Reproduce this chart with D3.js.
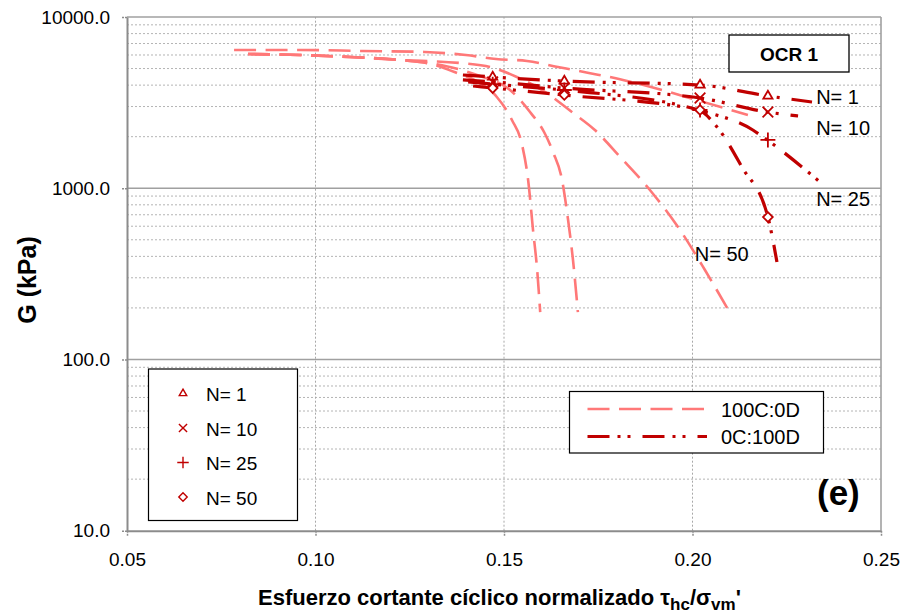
<!DOCTYPE html>
<html><head><meta charset="utf-8">
<script src="https://cdn.jsdelivr.net/npm/d3@7"></script>
<style>
body{margin:0;background:#fff}
svg{display:block}
text{font-family:"Liberation Sans",Arial,sans-serif;fill:#000}
</style>
</head><body><svg id="c" width="904" height="614"></svg>
<script>
// ---------------- data ----------------
const xTicks = [0.05, 0.10, 0.15, 0.20, 0.25];
const yTicks = [10, 100, 1000, 10000];
const seriesN = ["N= 1", "N= 10", "N= 25", "N= 50"];

// 100C:0D fitted curves (light dashed)
const L1x = [0.0784,0.0959,0.1126,0.1290,0.1399,0.1479,0.1561,0.1643,0.1725,0.1805,0.1890,0.2020,0.2147];
const L1g = [6417,6417,6332,6248,5998,5686,5535,5107,4710,4345,3902,3232,2677];
const L10x = [0.0821,0.0959,0.1092,0.1224,0.1383,0.1463,0.1534,0.1609,0.1680,0.1741,0.1808,0.1887,0.1967,0.2033,0.2092];
const L10g = [6081,5998,5840,5610,5387,5107,4463,3648,2787,2188,1522,977,570,333,200];
const L25x = [0.0821,0.0959,0.1092,0.1224,0.1344,0.1436,0.1516,0.1569,0.1609,0.1630,0.1654,0.1670,0.1683,0.1696];
const L25g = [6081,5998,5840,5610,5175,4523,3748,2787,2074,1627,1117,652,381,189];
const L50x = [0.0821,0.0959,0.1092,0.1224,0.1317,0.1375,0.1436,0.1481,0.1521,0.1548,0.1564,0.1577,0.1588,0.1596];
const L50g = [6081,5998,5840,5610,5244,4710,4117,3412,2503,1789,1117,570,333,189];

// 0C:100D fitted curves (dark dash-dot-dot)
const D1x = [0.1391,0.1471,0.1657,0.2020,0.2200,0.2317];
const D1g = [4585,4463,4229,4006,3457,3189];
const D10x = [0.1391,0.1471,0.1657,0.2020,0.2198,0.2280];
const D10g = [4293,4178,3850,3365,2787,2642];
const D25x = [0.1405,0.1471,0.1657,0.2015,0.2160,0.2198,0.2338];
const D25g = [4178,4050,3748,2864,2188,1915,1088];
const D50x = [0.1418,0.1471,0.1657,0.2015,0.2065,0.2131,0.2200,0.2224];
const D50g = [3954,3849,3506,2864,2279,1331,679,371];

// measured points (markers)
const mkX = [0.147, 0.166, 0.202, 0.220];
const M1 = [4463, 4229, 4006, 3457];
const M10 = [4178, 3850, 3365, 2787];
const M25 = [4050, 3748, 2864, 1915];
const M50 = [3849, 3506, 2864, 679];

const legendLines = ["100C:0D", "0C:100D"];

// ---------------- drawing ----------------
const svg = d3.select('#c');
const x = d3.scaleLinear().domain([0.05, 0.25]).range([127, 881]);
const y = d3.scaleLog().domain([10, 10000]).range([530.7, 17]);
const DARK = "#c00000", LIGHT = "#ff7878", GRID = "#b4b4b4", AXIS = "#8c8c8c";

// minor horizontal grid
const minor = [];
[10, 100, 1000].forEach(d => { for (let m = 2; m <= 9; m++) minor.push(d * m); });
svg.append('g').selectAll('line').data(minor).join('line')
  .attr('x1', x(0.05)).attr('x2', x(0.25))
  .attr('y1', d => y(d)).attr('y2', d => y(d))
  .attr('stroke', GRID).attr('stroke-width', 1).attr('stroke-dasharray', '2,2');
// vertical grid
svg.append('g').selectAll('line').data(xTicks.slice(1, -1)).join('line')
  .attr('x1', d => x(d)).attr('x2', d => x(d))
  .attr('y1', y(10)).attr('y2', y(10000))
  .attr('stroke', "#a8a8a8").attr('stroke-width', 1).attr('stroke-dasharray', '2,2');
// major horizontal grid
svg.append('g').selectAll('line').data(yTicks.slice(1)).join('line')
  .attr('x1', x(0.05)).attr('x2', x(0.25))
  .attr('y1', d => y(d)).attr('y2', d => y(d))
  .attr('stroke', "#a0a0a0").attr('stroke-width', 1.6);
// right border
svg.append('line').attr('x1', x(0.25)).attr('x2', x(0.25)).attr('y1', y(10)).attr('y2', y(10000))
  .attr('stroke', "#a0a0a0").attr('stroke-width', 1.6);

// axes
const yAxis = svg.append('g').attr('transform', `translate(${x(0.05)},0)`)
  .call(d3.axisLeft(y).tickValues(yTicks).tickFormat(d3.format('.1f')).tickSize(6).tickPadding(11).tickSizeOuter(0));
const xAxis = svg.append('g').attr('transform', `translate(0,${y(10)})`)
  .call(d3.axisBottom(x).tickValues(xTicks).tickFormat(d3.format('.2f')).tickSize(6).tickPadding(15.5).tickSizeOuter(0));
[yAxis, xAxis].forEach(a => {
  a.select('.domain').attr('stroke', AXIS).attr('stroke-width', 2);
  a.selectAll('.tick line').attr('stroke', AXIS).attr('stroke-width', 1.5).attr('stroke-dasharray', '2,1');
  a.selectAll('.tick text').attr('font-size', 19).attr('font-family', '"Liberation Sans",Arial,sans-serif').attr('fill', '#000');
});

const line = d3.line().x(d => x(d[0])).y(d => y(d[1])).curve(d3.curveMonotoneX);
const zip = (a, b) => a.map((v, i) => [v, b[i]]);

const lightDash = "22,9.5";
const darkDash = "22,8,3,7,3,12";

const gL = svg.append('g');
[[L1x, L1g], [L10x, L10g], [L25x, L25g], [L50x, L50g]].forEach(([a, b]) => {
  gL.append('path').attr('d', line(zip(a, b))).attr('fill', 'none')
    .attr('stroke', LIGHT).attr('stroke-width', 2.6).attr('stroke-dasharray', lightDash);
});
const gD = svg.append('g');
[[D1x, D1g], [D10x, D10g], [D25x, D25g], [D50x, D50g]].forEach(([a, b]) => {
  gD.append('path').attr('d', line(zip(a, b))).attr('fill', 'none')
    .attr('stroke', DARK).attr('stroke-width', 3.2).attr('stroke-dasharray', darkDash);
});

// markers
const symTypes = [d3.symbolTriangle2, d3.symbolTimes, d3.symbolPlus, d3.symbolDiamond2];
const symSizes = [60, 75, 75, 60];
const markerSets = [M1, M10, M25, M50];
const gM = svg.append('g');
markerSets.forEach((vals, k) => {
  gM.selectAll(null).data(zip(mkX, vals)).join('path')
    .attr('transform', d => `translate(${x(d[0])},${y(d[1])})`)
    .attr('d', d3.symbol(symTypes[k], symSizes[k]))
    .attr('fill', k === 0 || k === 3 ? 'white' : 'none')
    .attr('stroke', DARK).attr('stroke-width', 1.8);
});

// curve labels
const lblPos = [[0.2328, 3120], [0.2328, 2050], [0.2328, 790], [0.2006, 375]];
svg.append('g').selectAll('text').data(seriesN).join('text')
  .attr('x', (d, i) => x(lblPos[i][0])).attr('y', (d, i) => y(lblPos[i][1]))
  .attr('font-size', 20).text(d => d);

// OCR box
svg.append('rect').attr('x', 729).attr('y', 35).attr('width', 120).attr('height', 37)
  .attr('fill', 'white').attr('stroke', '#000').attr('stroke-width', 1.3);
svg.append('text').attr('x', 789).attr('y', 61).attr('text-anchor', 'middle')
  .attr('font-size', 19).attr('font-weight', 'bold').text('OCR 1');

// legend 1 (markers)
svg.append('rect').attr('x', 148.5).attr('y', 369).attr('width', 149).attr('height', 151.5)
  .attr('fill', 'white').attr('stroke', '#000').attr('stroke-width', 1.2);
const lg1 = svg.append('g');
seriesN.forEach((s, k) => {
  const cy = 393.5 + k * 34.5;
  lg1.append('path').attr('transform', `translate(183,${cy})`)
    .attr('d', d3.symbol(symTypes[k], k === 0 ? 40 : 45))
    .attr('fill', 'white').attr('stroke', DARK).attr('stroke-width', 1.4);
  lg1.append('text').attr('x', 206).attr('y', cy + 7.5).attr('font-size', 19).text(s);
});

// legend 2 (lines)
svg.append('rect').attr('x', 569.5).attr('y', 391.5).attr('width', 254).attr('height', 61.5)
  .attr('fill', 'white').attr('stroke', '#000').attr('stroke-width', 1.2);
const lg2 = svg.append('g');
legendLines.forEach((s, k) => {
  const cy = k === 0 ? 409 : 436.5;
  lg2.append('line').attr('x1', 587.5).attr('x2', 707).attr('y1', cy).attr('y2', cy)
    .attr('stroke', k === 0 ? LIGHT : DARK).attr('stroke-width', k === 0 ? 2.6 : 3.2)
    .attr('stroke-dasharray', k === 0 ? lightDash : darkDash);
  lg2.append('text').attr('x', 721).attr('y', cy + 7.5).attr('font-size', 20).text(s);
});

// panel tag
svg.append('text').attr('x', 817).attr('y', 505).attr('font-size', 35).attr('font-weight', 'bold').text('(e)');

// axis titles
svg.append('text').attr('transform', 'translate(36,280) rotate(-90)').attr('text-anchor', 'middle')
  .attr('font-size', 25).attr('font-weight', 'bold').text('G (kPa)');
const xt = svg.append('text').attr('x', 258).attr('y', 605).attr('font-size', 22).attr('font-weight', 'bold');
xt.append('tspan').text('Esfuerzo cortante cíclico normalizado τ');
xt.append('tspan').attr('dy', 5).attr('font-size', 17).text('hc');
xt.append('tspan').attr('dy', -5).text('/σ');
xt.append('tspan').attr('dy', 5).attr('font-size', 17).text('vm');
xt.append('tspan').attr('dy', -5).text("'");
</script>
</body></html>
